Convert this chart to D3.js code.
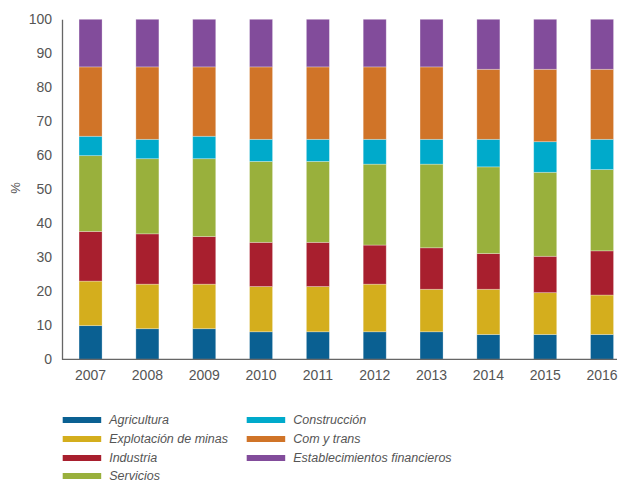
<!DOCTYPE html>
<html><head><meta charset="utf-8">
<script src="https://cdn.jsdelivr.net/npm/d3@7"></script>
<style>body{margin:0;background:#fff}svg{display:block}</style>
</head><body><svg id="c" width="618" height="482"></svg>
<script>
const years = ["2007","2008","2009","2010","2011","2012","2013","2014","2015","2016"];
const seriesNames = ["Agricultura","Explotación de minas","Industria","Servicios","Construcción","Com y trans","Establecimientos financieros"];
const agricultura   = [9.9, 9.0, 9.0, 8.1, 8.1, 8.1, 8.1, 7.3, 7.3, 7.3];
const mineria       = [13.1,13.1,13.1,13.3,13.3,14.0,12.5,13.3,12.3,11.6];
const industria     = [14.6,14.8,14.0,13.0,13.0,11.5,12.2,10.5,10.7,13.0];
const servicios     = [22.3,22.1,22.9,23.8,23.8,23.8,24.6,25.5,24.7,23.9];
const construccion  = [5.7, 5.7, 6.6, 6.5, 6.5, 7.3, 7.3, 8.1, 9.0, 8.9];
const comercio      = [20.4,21.3,20.4,21.3,21.3,21.3,21.3,20.6,21.3,20.6];
const financieros   = [14.0,14.0,14.0,14.0,14.0,14.0,14.0,14.7,14.7,14.7];
const yTicks = [0,10,20,30,40,50,60,70,80,90,100];
const colors = ["#0a6092","#d4ae1d","#a81f2e","#99b03c","#00aacb","#d07428","#824c9b"];

const seriesValues = [agricultura, mineria, industria, servicios, construccion, comercio, financieros];
const table = years.map((y,i)=>{const o={year:y}; seriesNames.forEach((s,j)=>o[s]=seriesValues[j][i]); return o;});
const stacked = d3.stack().keys(seriesNames)(table);

const svg = d3.select("#c");
const x = d3.scaleBand().domain(years).range([62, 630.6]).paddingInner(0.595).paddingOuter(0.3);
const y = d3.scaleLinear().domain([0,100]).range([359.3, 19.3]);

svg.append("g").selectAll("g").data(stacked).join("g")
  .attr("fill",(d,i)=>colors[i])
  .selectAll("rect").data(d=>d).join("rect")
  .attr("x",d=>x(d.data.year))
  .attr("width",x.bandwidth())
  .attr("y",d=>y(d[1]))
  .attr("height",d=>y(d[0])-y(d[1]))
  .attr("stroke","rgba(255,255,255,0.35)").attr("stroke-width",0.8);

// y axis
const yAxis = svg.append("g").attr("transform","translate(62,0)")
  .call(d3.axisLeft(y).tickValues(yTicks).tickSize(0).tickPadding(10));
yAxis.select(".domain").attr("stroke","#666").attr("stroke-width",1.3);
yAxis.selectAll("text").attr("font-family","Liberation Sans, Arial, sans-serif").attr("font-size",14).attr("fill","#555");

// x axis
const xAxis = svg.append("g").attr("transform","translate(0,359.3)")
  .call(d3.axisBottom(x).tickSize(0).tickPadding(11));
xAxis.select(".domain").remove();
svg.append("line").attr("x1",62).attr("x2",617).attr("y1",359.3).attr("y2",359.3).attr("stroke","#666").attr("stroke-width",1.3);
xAxis.selectAll("text").attr("font-family","Liberation Sans, Arial, sans-serif").attr("font-size",14).attr("fill","#555");

svg.append("text").attr("transform","translate(20,188) rotate(-90)").attr("text-anchor","middle")
  .attr("font-family","Liberation Sans, Arial, sans-serif").attr("font-size",13).attr("fill","#555").text("%");

// legend
const legPos = [[62.7,420],[62.7,439],[62.7,458],[62.7,476],[246.7,420],[246.7,439],[246.7,458]];
const leg = svg.append("g").selectAll("g").data(seriesNames).join("g")
  .attr("transform",(d,i)=>`translate(${legPos[i][0]},${legPos[i][1]})`);
leg.append("rect").attr("x",0).attr("y",-3).attr("width",38.5).attr("height",6).attr("fill",(d,i)=>colors[i]);
leg.append("text").attr("x",46.5).attr("y",4.3).attr("font-family","Liberation Sans, Arial, sans-serif")
  .attr("font-style","italic").attr("font-size",12.5).attr("fill","#555").text(d=>d);
</script></body></html>
